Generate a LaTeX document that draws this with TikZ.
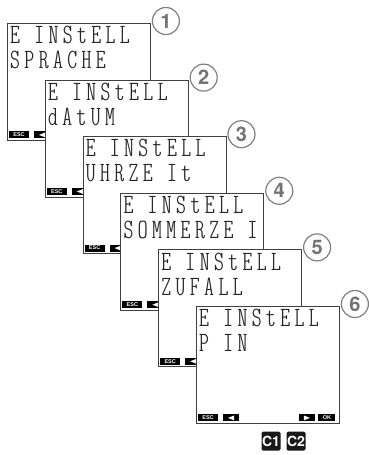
\documentclass[tikz,border=0pt]{standalone}
\usepackage{fontspec}
\newfontfamily\numfont{TeX Gyre Heros}
\newfontfamily\btnfont{Liberation Sans}
\newfontfamily\lcdfont[LetterSpace=16]{lmmonoltcond10-regular.otf}
\begin{document}
\tikzset{
 screen/.style={draw=black!75, line width=0.9pt, fill=white, minimum width=143pt, minimum height=117pt, anchor=north west, inner sep=0pt},
 num/.style={circle, draw=black!50, line width=1.2pt, fill=white, minimum size=27pt, inner sep=0pt, font=\numfont\bfseries\fontsize{20}{20}\selectfont, text=black!55},
 lcd/.style={anchor=north west, inner sep=0pt, align=left, font=\lcdfont\fontsize{28}{25}\selectfont, text=black!85},
 btn/.style={fill=black, minimum width=20pt, minimum height=7pt, inner sep=0pt, text=white, font=\btnfont\bfseries\fontsize{5.5}{5.5}\selectfont},
 ckey/.style={fill=black!90, rounded corners=1.5pt, minimum size=19pt, inner sep=0pt, text=white, font=\numfont\bfseries\fontsize{14}{14}\selectfont},
}
\begin{tikzpicture}[x=1pt,y=-1pt]
\useasboundingbox (0,0) rectangle (368,455);
\foreach \i/\txt in {1/SPRACHE,2/dAtUM,3/UHRZE It,4/SOMMERZE I,5/ZUFALL,6/P IN}{
  \pgfmathsetmacro\L{7+37.8*(\i-1)}
  \pgfmathsetmacro\T{23+56.6*(\i-1)}
  \node[screen] (s\i) at (\L,\T) {};
  \node[lcd] (t\i) at ([shift={(3,3)}]s\i.north west) {E INStELL\\\txt};
  \node[btn] (e\i) at ([shift={(12,-6)}]s\i.south west) {ESC};
  \node[btn, minimum width=16pt] (l\i) at ([shift={(35,-6)}]s\i.south west) {};
  \fill[white] ([shift={(-3,0)}]l\i.center) -- ++(6,-2.4) -- ++(0,4.8) -- cycle;
  \node[num] (n\i) at ([shift={(15,-2)}]s\i.north east) {\i};
}
\node[btn, minimum width=16pt] (r6) at ([shift={(-33,-6)}]s6.south east) {};
\fill[white] ([shift={(3,0)}]r6.center) -- ++(-6,-2.4) -- ++(0,4.8) -- cycle;
\node[btn, minimum width=17pt] (o6) at ([shift={(-13,-6)}]s6.south east) {OK};
\node[ckey] (k1) at (271,441) {C1};
\node[ckey] (k2) at (296,441) {C2};
\end{tikzpicture}
\end{document}
